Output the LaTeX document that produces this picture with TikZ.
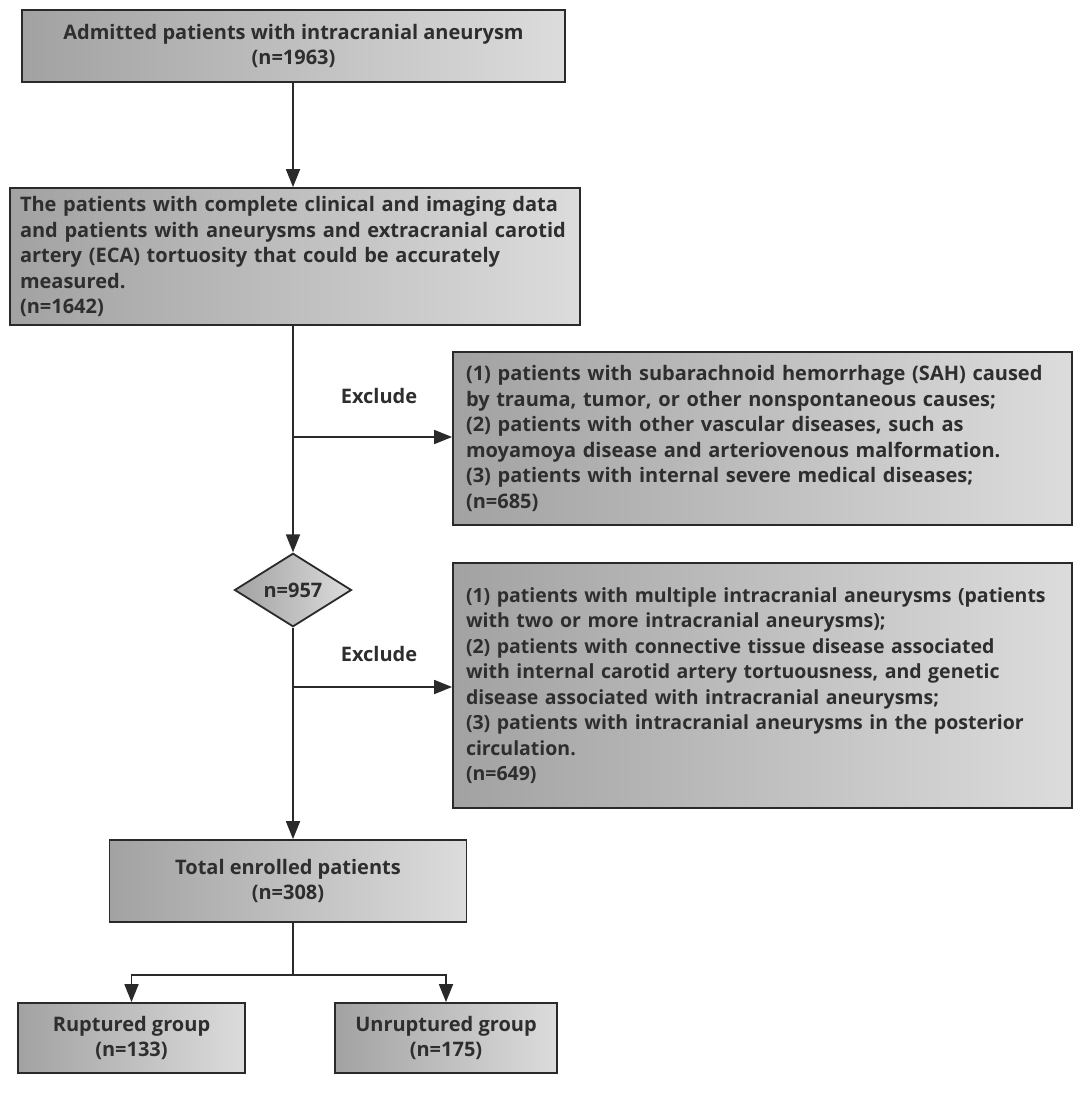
\documentclass[tikz,border=0pt]{standalone}
\usepackage{fontspec}
\setmainfont{Open Sans}
\usetikzlibrary{arrows.meta,shapes.geometric}
\definecolor{txt}{HTML}{2E2E2E}
\definecolor{edge}{HTML}{2A2A2A}
\definecolor{gdark}{HTML}{A2A2A2}
\definecolor{glight}{HTML}{DCDCDC}
\tikzset{
  box/.style={draw=edge, line width=1.8pt, left color=gdark, right color=glight,
    rectangle, inner sep=0pt, font=\fontsize{20}{25.5}\selectfont\bfseries, text=txt},
  lbox/.style={box, align=left},
  cbox/.style={box, align=center},
  dia/.style={box, diamond, align=center},
  conn/.style={draw=edge, line width=1.8pt},
  arr/.style={conn, -{Triangle[length=18pt,width=14pt]}},
  lab/.style={font=\fontsize{20}{24}\selectfont\bfseries, text=txt}
}
\begin{document}
\begin{tikzpicture}[x=1pt,y=-1pt]
\useasboundingbox (0,0) rectangle (1084,1093);
\fill[white] (0,0) rectangle (1084,1093);

\node[cbox, minimum width=543pt, minimum height=72pt] (b1) at (293.5,46)
  {Admitted patients with intracranial aneurysm\\(n=1963)};

\node[lbox, minimum width=570pt, minimum height=137pt, text width=550pt] (b2) at (295,256.5)
  {The patients with complete clinical and imaging data\\
   and patients with aneurysms and extracranial carotid\\
   artery (ECA) tortuosity that could be accurately\\
   measured.\\
   (n=1642)};

\node[lbox, minimum width=619pt, minimum height=173pt, text width=593pt] (e1) at (762.5,438.5)
  {(1) patients with subarachnoid hemorrhage (SAH) caused\\
   by trauma, tumor, or other nonspontaneous causes;\\
   (2) patients with other vascular diseases, such as\\
   moyamoya disease and arteriovenous malformation.\\
   (3) patients with internal severe medical diseases;\\
   (n=685)};

\node[dia, minimum width=117pt, minimum height=70pt] (d) at (293,590) {n=957};

\node[lbox, minimum width=619pt, minimum height=245pt, text width=593pt,
      font=\fontsize{19.5}{25.5}\selectfont\bfseries] (e2) at (762.5,685.5)
  {\mbox{(1) patients with multiple intracranial aneurysms (patients}\\
   with two or more intracranial aneurysms);\\
   (2) patients with connective tissue disease associated\\
   with internal carotid artery tortuousness, and genetic\\
   disease associated with intracranial aneurysms;\\
   (3) patients with intracranial aneurysms in the posterior\\
   circulation.\\
   (n=649)};

\node[cbox, minimum width=357pt, minimum height=82pt] (t) at (288,881)
  {Total enrolled patients\\(n=308)};

\node[cbox, minimum width=227pt, minimum height=70pt] (r) at (131.5,1038)
  {Ruptured group\\(n=133)};
\node[cbox, minimum width=222pt, minimum height=70pt] (u) at (446,1038)
  {Unruptured group\\(n=175)};

\coordinate (j1) at (293,437);
\coordinate (j2) at (293,687);
\coordinate (br) at (293,975);

\draw[arr] (b1.south -| j1) -- (b2.north -| j1);
\draw[arr] (b2.south -| j1) -- (d.north);
\draw[arr] (j1) -- (e1.west |- j1);
\node[lab] (x1) at (379,396) {Exclude};
\draw[arr] (d.south) -- (t.north -| d.south);
\draw[arr] (j2) -- (e2.west |- j2);
\node[lab] (x2) at (379,654) {Exclude};
\draw[conn] (t.south -| br) -- (br);
\draw[arr] (br) -| (r.north);
\draw[arr] (br) -| (u.north);
\end{tikzpicture}
\end{document}
